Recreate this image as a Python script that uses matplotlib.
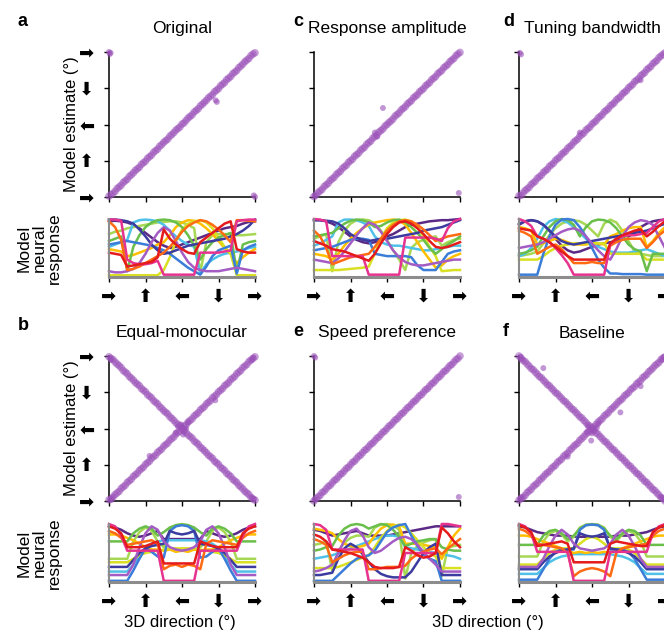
import matplotlib.pyplot as plt

plt.rcParams['font.family'] = ['Liberation Sans', 'DejaVu Sans']

# ---- data ----
ticks = [0, 90, 180, 270, 360]
tick_icons = ['\u27a1', '\u2b06', '\u2b05', '\u2b07', '\u27a1']

stimulus_directions = [0, 5, 10, 15, 20, 25, 30, 35, 40, 45, 50, 55, 60, 65, 70, 75, 80, 85, 90, 95,
                       100, 105, 110, 115, 120, 125, 130, 135, 140, 145, 150, 155, 160, 165, 170, 175,
                       180, 185, 190, 195, 200, 205, 210, 215, 220, 225, 230, 235, 240, 245, 250, 255,
                       260, 265, 270, 275, 280, 285, 290, 295, 300, 305, 310, 315, 320, 325, 330, 335,
                       340, 345, 350, 355, 360]

est_original = [2, 6, 9, 14, 21, 25, 29, 36, 40, 44, 51, 55, 60, 66, 70, 74, 81, 85, 89, 96,
                100, 104, 111, 115, 119, 126, 130, 136, 140, 144, 151, 155, 160, 166, 170, 174,
                181, 184, 190, 196, 200, 204, 211, 215, 219, 226, 230, 235, 240, 246, 250, 254,
                261, 265, 269, 276, 280, 284, 291, 295, 299, 306, 310, 314, 321, 325, 330, 336,
                340, 344, 351, 355, 358]
est_amplitude = [1, 5, 11, 15, 19, 26, 30, 34, 41, 45, 49, 56, 60, 64, 71, 75, 79, 86, 90, 94,
                 101, 105, 109, 116, 120, 124, 131, 135, 139, 146, 150, 154, 161, 165, 169, 176,
                 180, 185, 189, 194, 201, 205, 209, 216, 220, 224, 231, 235, 239, 246, 250, 254,
                 261, 265, 269, 276, 280, 284, 291, 295, 299, 306, 310, 314, 321, 325, 329, 336,
                 340, 344, 351, 355, 359]
est_bandwidth = [3, 4, 10, 16, 20, 24, 31, 35, 39, 46, 50, 54, 61, 65, 69, 76, 80, 84, 91, 95,
                 99, 106, 110, 114, 121, 125, 129, 136, 140, 144, 151, 155, 159, 166, 170, 174,
                 181, 185, 189, 196, 200, 204, 211, 215, 219, 226, 230, 234, 241, 245, 249, 256,
                 260, 264, 271, 275, 279, 286, 290, 294, 301, 305, 309, 316, 320, 324, 331, 335,
                 339, 346, 350, 354, 358]
est_speed = [0, 6, 10, 14, 21, 24, 30, 36, 39, 45, 51, 54, 60, 66, 69, 75, 81, 84, 90, 96,
             99, 105, 111, 114, 120, 126, 129, 135, 141, 144, 150, 156, 159, 165, 171, 174,
             180, 186, 189, 195, 201, 204, 210, 216, 219, 225, 231, 234, 240, 246, 249, 255,
             261, 264, 270, 276, 279, 285, 291, 294, 300, 306, 309, 315, 321, 324, 330, 336,
             339, 345, 351, 354, 360]
est_equal_mono_rise = est_bandwidth
est_equal_mono_fall = [358, 354, 351, 345, 340, 336, 331, 324, 320, 316, 309, 305, 300, 294, 290, 286,
                       279, 275, 271, 264, 260, 256, 249, 245, 241, 234, 230, 224, 220, 216, 209, 205,
                       200, 194, 190, 186, 179, 176, 170, 164, 160, 156, 149, 145, 141, 134, 130, 125,
                       120, 114, 110, 106, 99, 95, 91, 84, 80, 76, 69, 65, 61, 54, 50, 46, 39, 35,
                       30, 24, 20, 16, 9, 5, 2]
est_baseline_rise = est_original
est_baseline_fall = [360, 355, 349, 346, 340, 335, 329, 326, 320, 315, 309, 306, 300, 295, 289, 286,
                     280, 275, 269, 266, 260, 255, 249, 246, 240, 235, 229, 226, 220, 215, 209, 206,
                     200, 195, 189, 186, 180, 175, 169, 166, 160, 155, 149, 146, 140, 135, 129, 126,
                     120, 115, 109, 106, 100, 95, 89, 86, 80, 75, 69, 66, 60, 55, 49, 46, 40, 35,
                     29, 26, 20, 15, 9, 6, 0]

# off-band points
out_original_x = [0, 4, 2, 360, 357, 263, 266]
out_original_y = [360, 358, 355, 0, 4, 240, 236]
out_amplitude_x = [170, 150, 156, 357, 2]
out_amplitude_y = [221, 160, 150, 10, 4]
out_bandwidth_x = [2, 5, 150, 300]
out_bandwidth_y = [358, 354, 160, 290]
out_equal_mono_x = [170, 185, 178, 190, 165, 195, 183, 4, 8, 356, 352, 3, 6, 357, 352, 100, 262]
out_equal_mono_y = [185, 172, 190, 180, 170, 195, 165, 4, 9, 356, 350, 355, 350, 5, 9, 112, 250]
out_speed_x = [0, 3, 357, 2]
out_speed_y = [360, 356, 10, 4]
out_baseline_x = [170, 185, 178, 192, 168, 196, 180, 3, 7, 357, 352, 4, 8, 356, 350, 60, 120, 300, 250]
out_baseline_y = [186, 174, 150, 182, 172, 192, 168, 5, 10, 357, 350, 358, 352, 4, 10, 330, 110, 285, 220]

response_directions = [0, 15, 30, 45, 60, 75, 90, 105, 120, 135, 150, 165, 180,
                       195, 210, 225, 240, 255, 270, 285, 300, 315, 330, 345, 360]

curve_colors = ['#5b2a86', '#a6d854', '#4fc1e9', '#ffbf00', '#d9e021', '#6abf4b',
                '#3b7dd8', '#3b3ba0', '#a45cc4', '#ff6a13', '#e6338f', '#e41a1c']

resp_original = [
    [96, 97, 96, 94, 90, 84, 76, 68, 60, 54, 50, 52, 56, 60, 64, 68, 72, 76, 80, 84, 86, 88, 92, 95, 96],
    [74, 78, 80, 84, 86, 88, 90, 92, 94, 95, 96, 96, 94, 90, 84, 8, 60, 72, 74, 74, 74, 72, 72, 73, 74],
    [52, 56, 60, 64, 94, 98, 99, 98, 96, 90, 80, 70, 62, 56, 52, 6, 22, 30, 36, 40, 42, 44, 46, 50, 52],
    [48, 46, 44, 36, 38, 42, 46, 50, 56, 60, 72, 86, 94, 98, 97, 92, 84, 74, 62, 50, 40, 24, 34, 42, 48],
    [3, 3, 3, 3, 3, 3, 3, 3, 3, 12, 34, 62, 82, 92, 96, 98, 94, 84, 68, 52, 40, 3, 3, 3, 3],
    [62, 66, 70, 10, 52, 72, 86, 94, 98, 99, 98, 94, 86, 72, 54, 30, 48, 60, 68, 72, 76, 8, 56, 60, 62],
    [56, 58, 60, 62, 60, 58, 56, 54, 50, 46, 40, 32, 24, 16, 10, 4, 18, 36, 46, 50, 54, 6, 46, 52, 56],
    [99, 99, 98, 96, 92, 82, 70, 56, 46, 40, 42, 46, 50, 54, 56, 58, 60, 62, 64, 66, 70, 74, 80, 88, 99],
    [10, 8, 8, 10, 14, 24, 40, 60, 76, 86, 80, 62, 42, 26, 16, 12, 10, 10, 10, 12, 14, 16, 14, 12, 10],
    [96, 86, 64, 12, 14, 18, 24, 30, 36, 42, 52, 64, 78, 88, 94, 98, 96, 90, 82, 72, 60, 98, 98, 97, 96],
    [99, 99, 97, 30, 24, 22, 22, 24, 28, 4, 4, 4, 4, 4, 4, 42, 42, 42, 42, 44, 46, 96, 98, 99, 99],
    [42, 40, 38, 18, 20, 22, 24, 26, 34, 82, 66, 56, 48, 42, 40, 60, 68, 76, 84, 92, 96, 48, 44, 42, 42],
]
resp_amplitude = [
    [98, 98, 96, 92, 86, 78, 70, 64, 60, 58, 60, 64, 70, 74, 80, 86, 90, 92, 94, 96, 97, 98, 98, 99, 100],
    [66, 70, 74, 10, 60, 80, 92, 98, 99, 98, 92, 80, 64, 46, 30, 12, 50, 60, 64, 68, 70, 54, 60, 64, 66],
    [54, 58, 64, 70, 94, 99, 99, 98, 94, 88, 70, 60, 56, 54, 54, 52, 50, 48, 46, 46, 48, 50, 52, 54, 54],
    [40, 38, 36, 30, 40, 54, 66, 76, 84, 90, 94, 96, 98, 99, 98, 90, 76, 60, 44, 30, 16, 20, 30, 36, 40],
    [12, 12, 12, 12, 12, 13, 14, 15, 16, 18, 40, 66, 84, 94, 98, 99, 96, 86, 70, 52, 36, 10, 11, 12, 12],
    [70, 72, 74, 76, 84, 92, 97, 99, 98, 94, 86, 88, 94, 98, 99, 94, 86, 76, 64, 50, 40, 48, 56, 62, 70],
    [46, 48, 50, 52, 56, 60, 64, 66, 66, 64, 40, 38, 36, 36, 36, 36, 34, 20, 12, 12, 12, 26, 40, 44, 46],
    [98, 98, 97, 96, 92, 84, 74, 68, 64, 62, 64, 66, 66, 68, 70, 72, 74, 76, 80, 82, 84, 86, 90, 94, 98],
    [30, 28, 26, 24, 32, 44, 58, 72, 84, 94, 90, 78, 62, 46, 34, 26, 22, 20, 20, 22, 24, 26, 28, 30, 30],
    [80, 70, 50, 22, 26, 30, 34, 36, 38, 40, 52, 66, 80, 90, 96, 98, 96, 90, 82, 72, 62, 66, 70, 72, 74],
    [100, 99, 96, 36, 36, 36, 36, 36, 36, 4, 4, 4, 4, 4, 4, 68, 68, 68, 68, 68, 66, 62, 84, 96, 100],
    [62, 58, 54, 48, 46, 44, 40, 36, 32, 28, 40, 58, 74, 86, 94, 96, 92, 84, 74, 62, 52, 50, 52, 56, 60],
]
resp_bandwidth = [
    [90, 96, 98, 96, 90, 80, 66, 54, 46, 42, 44, 48, 52, 56, 58, 60, 62, 66, 70, 76, 86, 92, 96, 98, 99],
    [36, 38, 40, 44, 58, 72, 84, 92, 96, 98, 96, 90, 80, 70, 92, 99, 94, 80, 62, 44, 40, 38, 36, 36, 36],
    [36, 40, 50, 66, 86, 96, 100, 98, 94, 86, 76, 66, 58, 52, 48, 44, 42, 42, 42, 44, 46, 48, 44, 40, 36],
    [86, 84, 80, 56, 58, 62, 66, 64, 60, 56, 56, 56, 58, 58, 56, 70, 74, 80, 84, 86, 86, 52, 62, 76, 86],
    [30, 30, 30, 30, 36, 44, 50, 54, 56, 58, 58, 58, 58, 58, 58, 40, 40, 40, 40, 40, 40, 30, 30, 30, 30],
    [40, 42, 46, 52, 70, 86, 96, 100, 98, 90, 70, 86, 96, 99, 98, 94, 84, 70, 56, 48, 44, 10, 40, 40, 40],
    [4, 4, 4, 4, 40, 70, 90, 99, 100, 98, 86, 70, 50, 30, 16, 6, 6, 5, 5, 5, 5, 4, 4, 4, 4],
    [92, 96, 98, 96, 90, 80, 70, 62, 58, 56, 58, 60, 62, 64, 66, 68, 70, 72, 74, 76, 78, 80, 84, 88, 92],
    [50, 52, 54, 56, 60, 66, 72, 78, 82, 84, 80, 70, 58, 46, 36, 30, 48, 70, 86, 94, 98, 96, 90, 70, 50],
    [80, 76, 70, 40, 46, 52, 56, 48, 36, 24, 24, 24, 26, 24, 24, 54, 60, 64, 66, 66, 66, 50, 60, 72, 80],
    [100, 96, 88, 70, 66, 60, 50, 38, 24, 4, 4, 4, 4, 4, 4, 56, 66, 70, 72, 72, 74, 76, 86, 96, 100],
    [84, 82, 80, 70, 66, 60, 52, 44, 36, 30, 30, 30, 30, 30, 30, 58, 66, 72, 76, 80, 82, 70, 78, 88, 96],
]
resp_equal_mono = [
    [96, 94, 90, 84, 80, 78, 80, 84, 88, 74, 74, 74, 74, 74, 74, 74, 88, 84, 80, 78, 80, 84, 90, 94, 96],
    [40, 40, 40, 40, 70, 86, 94, 88, 70, 60, 90, 98, 100, 98, 90, 60, 70, 88, 94, 86, 70, 40, 40, 40, 40],
    [18, 18, 18, 18, 30, 44, 58, 66, 70, 72, 72, 72, 72, 72, 72, 72, 70, 66, 58, 44, 30, 18, 18, 18, 18],
    [82, 82, 80, 76, 72, 66, 60, 56, 56, 54, 56, 52, 54, 52, 56, 54, 56, 56, 60, 66, 72, 76, 80, 82, 82],
    [34, 34, 34, 34, 40, 46, 50, 52, 54, 56, 58, 58, 58, 58, 58, 56, 54, 52, 50, 46, 40, 34, 34, 34, 34],
    [70, 70, 70, 70, 84, 92, 96, 92, 80, 86, 94, 98, 99, 98, 94, 86, 80, 92, 96, 92, 84, 70, 70, 70, 70],
    [2, 2, 2, 2, 20, 40, 58, 52, 44, 42, 88, 96, 98, 96, 88, 42, 44, 52, 58, 40, 20, 2, 2, 2, 2],
    [26, 26, 26, 26, 38, 50, 58, 62, 64, 66, 88, 84, 82, 84, 88, 66, 64, 62, 58, 50, 38, 26, 26, 26, 26],
    [12, 12, 12, 12, 30, 60, 84, 96, 90, 70, 60, 56, 54, 56, 60, 70, 90, 96, 84, 60, 30, 12, 12, 12, 12],
    [88, 84, 76, 64, 66, 68, 70, 72, 66, 22, 28, 30, 26, 30, 28, 22, 66, 72, 70, 68, 66, 64, 76, 84, 88],
    [100, 96, 80, 54, 54, 54, 54, 54, 54, 2, 2, 2, 2, 2, 2, 54, 54, 54, 54, 54, 54, 54, 80, 96, 100],
    [96, 92, 84, 60, 60, 60, 62, 66, 70, 32, 32, 32, 32, 32, 32, 70, 66, 62, 60, 60, 60, 60, 84, 92, 96],
]
resp_speed = [
    [90, 88, 84, 80, 82, 84, 86, 88, 84, 80, 80, 80, 80, 82, 84, 86, 88, 90, 92, 94, 96, 96, 96, 96, 96],
    [64, 66, 70, 20, 54, 68, 76, 80, 80, 78, 94, 99, 100, 98, 90, 6, 50, 62, 68, 72, 74, 10, 60, 62, 64],
    [40, 42, 44, 46, 50, 54, 58, 62, 66, 70, 74, 78, 80, 80, 78, 60, 58, 56, 54, 52, 50, 48, 46, 44, 40],
    [92, 90, 88, 84, 74, 66, 62, 60, 62, 66, 80, 92, 98, 99, 96, 66, 66, 66, 64, 62, 60, 40, 60, 80, 92],
    [24, 24, 24, 24, 26, 30, 34, 38, 42, 46, 60, 76, 88, 96, 99, 94, 84, 72, 60, 50, 44, 24, 24, 24, 24],
    [54, 56, 60, 62, 80, 92, 98, 100, 98, 92, 96, 100, 98, 90, 78, 62, 66, 70, 72, 74, 74, 60, 56, 54, 54],
    [2, 2, 2, 2, 12, 22, 32, 40, 44, 46, 54, 70, 86, 94, 98, 100, 80, 62, 48, 40, 36, 2, 2, 2, 2],
    [12, 12, 14, 16, 40, 58, 66, 60, 48, 34, 22, 14, 10, 8, 8, 8, 18, 34, 50, 60, 66, 12, 12, 12, 12],
    [18, 20, 24, 30, 50, 72, 88, 92, 80, 60, 50, 54, 62, 70, 76, 78, 74, 64, 52, 40, 30, 18, 18, 18, 18],
    [74, 70, 64, 34, 40, 46, 50, 52, 52, 22, 22, 24, 26, 26, 26, 28, 40, 48, 52, 56, 58, 48, 58, 66, 74],
    [100, 98, 90, 56, 56, 56, 56, 56, 56, 2, 2, 2, 2, 2, 2, 50, 50, 50, 50, 50, 50, 100, 100, 98, 96],
    [82, 78, 70, 56, 54, 52, 50, 46, 42, 34, 26, 24, 24, 24, 26, 60, 54, 46, 42, 44, 50, 94, 84, 70, 60],
]
resp_baseline = [
    [96, 94, 90, 86, 84, 82, 80, 80, 80, 78, 78, 78, 78, 78, 78, 78, 80, 80, 80, 82, 84, 86, 90, 94, 96],
    [44, 44, 44, 44, 70, 84, 88, 82, 70, 78, 94, 99, 100, 99, 94, 78, 70, 82, 88, 84, 70, 44, 44, 44, 44],
    [14, 14, 14, 14, 24, 34, 40, 44, 46, 48, 48, 48, 48, 48, 48, 48, 46, 44, 40, 34, 24, 14, 14, 14, 14],
    [80, 80, 78, 74, 70, 66, 62, 58, 54, 50, 52, 50, 52, 50, 52, 50, 54, 58, 62, 66, 70, 74, 78, 80, 80],
    [30, 30, 30, 30, 40, 50, 56, 58, 58, 58, 66, 74, 78, 74, 66, 58, 58, 58, 56, 50, 40, 30, 30, 30, 30],
    [64, 64, 64, 64, 80, 88, 90, 84, 74, 80, 92, 98, 99, 98, 92, 80, 74, 84, 90, 88, 80, 64, 64, 64, 64],
    [4, 4, 4, 4, 22, 40, 52, 56, 56, 56, 90, 98, 99, 98, 90, 56, 56, 56, 52, 40, 22, 4, 4, 4, 4],
    [22, 22, 22, 22, 34, 44, 50, 54, 56, 58, 84, 80, 78, 80, 84, 58, 56, 54, 50, 44, 34, 22, 22, 22, 22],
    [26, 26, 26, 26, 40, 62, 80, 90, 82, 66, 58, 56, 54, 56, 58, 66, 82, 90, 80, 62, 40, 26, 26, 26, 26],
    [92, 88, 80, 66, 64, 62, 60, 58, 50, 10, 18, 22, 24, 22, 18, 10, 50, 58, 60, 62, 64, 66, 80, 88, 92],
    [100, 96, 84, 52, 52, 52, 52, 52, 52, 2, 2, 2, 2, 2, 2, 52, 52, 52, 52, 52, 52, 52, 84, 96, 100],
    [98, 94, 86, 62, 64, 66, 68, 70, 66, 34, 34, 34, 34, 34, 34, 66, 70, 68, 66, 64, 62, 62, 86, 94, 98],
]

panels = [
    ('a', 'Original', 0, 0, [est_original], out_original_x, out_original_y, resp_original),
    ('c', 'Response amplitude', 0, 1, [est_amplitude], out_amplitude_x, out_amplitude_y, resp_amplitude),
    ('d', 'Tuning bandwidth', 0, 2, [est_bandwidth], out_bandwidth_x, out_bandwidth_y, resp_bandwidth),
    ('b', 'Equal-monocular', 1, 0, [est_equal_mono_rise, est_equal_mono_fall],
     out_equal_mono_x, out_equal_mono_y, resp_equal_mono),
    ('e', 'Speed preference', 1, 1, [est_speed], out_speed_x, out_speed_y, resp_speed),
    ('f', 'Baseline', 1, 2, [est_baseline_rise, est_baseline_fall],
     out_baseline_x, out_baseline_y, resp_baseline),
]

# ---- layout (pixels -> figure fractions) ----
W, H = 664, 632
col_left = [109, 314, 519]
ax_w = 146
scatter_top = [52, 356]
resp_top = [219, 524]
letter_x = [18, 293, 503]
letter_y = [[21, 22, 21], [326, 331, 331]]
title_y = [29, 333]

fig = plt.figure(figsize=(W / 100, H / 100), dpi=100)
purple = '#9a50b8'
gray = '#8c8c8c'

for letter, title, row, col, estimates, ox, oy, curves in panels:
    left = col_left[col] / W
    sax = fig.add_axes([left, 1 - (scatter_top[row] + 145) / H, ax_w / W, 145 / H])
    for est in estimates:
        sax.scatter(stimulus_directions, est, s=30, color=purple, alpha=0.55,
                    edgecolors='none', clip_on=False, zorder=3)
    sax.scatter(ox, oy, s=18, color=purple, alpha=0.6, edgecolors='none', clip_on=False, zorder=3)
    sax.set_xlim(0, 360)
    sax.set_ylim(0, 360)
    sax.set_xticks(ticks)
    sax.set_yticks(ticks)
    sax.set_xticklabels([])
    if col == 0:
        sax.set_yticklabels(tick_icons, fontsize=13)
        sax.set_ylabel('Model estimate (\u00b0)', fontsize=12, labelpad=0)
    else:
        sax.set_yticklabels([])
    sax.tick_params(length=3.5, width=1, direction='out', pad=7)
    for s in ['top', 'right']:
        sax.spines[s].set_visible(False)
    for s in ['left', 'bottom']:
        sax.spines[s].set_linewidth(1.1)
    fig.text((col_left[col] + ax_w / 2) / W, 1 - title_y[row] / H, title,
             fontsize=12.5, ha='center', va='center')
    fig.text(letter_x[col] / W, 1 - letter_y[row][col] / H, letter,
             fontsize=13, fontweight='bold', ha='left', va='center')

    rax = fig.add_axes([left, 1 - (resp_top[row] + 58) / H, ax_w / W, 58 / H])
    for curve, c in zip(curves, curve_colors):
        rax.plot(response_directions, curve, color=c, lw=1.8, clip_on=False,
                 solid_joinstyle='round')
    rax.set_xlim(0, 360)
    rax.set_ylim(0, 100)
    rax.set_yticks([])
    rax.set_xticks(ticks)
    rax.set_xticklabels(tick_icons, fontsize=13)
    rax.tick_params(axis='x', length=3.5, width=1, pad=5)
    for s in ['top', 'right']:
        rax.spines[s].set_visible(False)
    rax.spines['left'].set_color(gray)
    rax.spines['left'].set_linewidth(1.5)
    rax.spines['bottom'].set_color(gray)
    rax.spines['bottom'].set_linewidth(2.2)
    if col == 0:
        rax.set_ylabel('Model\nneural\nresponse', fontsize=12.5, labelpad=34, linespacing=1.0)

fig.text(180 / W, 1 - 623 / H, '3D direction (\u00b0)', fontsize=12, ha='center', va='center')
fig.text(488 / W, 1 - 623 / H, '3D direction (\u00b0)', fontsize=12, ha='center', va='center')

fig.savefig('out.png', dpi=100)
